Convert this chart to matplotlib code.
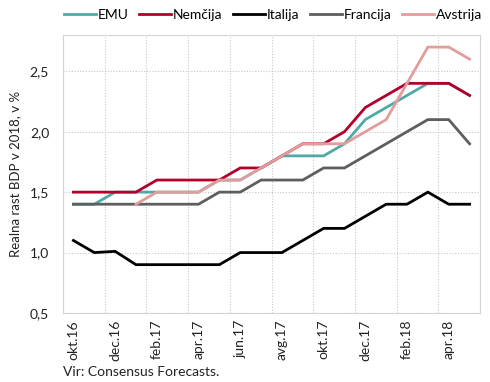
import numpy as np
import matplotlib
matplotlib.use("Agg")
import matplotlib.pyplot as plt
from matplotlib.ticker import FixedLocator, FuncFormatter

plt.rcParams['font.family'] = ['Lato', 'DejaVu Sans']

months = ["okt.16", "nov.16", "dec.16", "jan.17", "feb.17", "mar.17", "apr.17", "maj.17",
          "jun.17", "jul.17", "avg.17", "sep.17", "okt.17", "nov.17", "dec.17", "jan.18",
          "feb.18", "mar.18", "apr.18", "maj.18"]
emu = [1.4, 1.4, 1.5, 1.5, 1.5, 1.5, 1.5, 1.6, 1.6, 1.7, 1.8, 1.8, 1.8, 1.9, 2.1, 2.2, 2.3, 2.4, 2.4, 2.3]
nemcija = [1.5, 1.5, 1.5, 1.5, 1.6, 1.6, 1.6, 1.6, 1.7, 1.7, 1.8, 1.9, 1.9, 2.0, 2.2, 2.3, 2.4, 2.4, 2.4, 2.3]
italija = [1.1, 1.0, 1.01, 0.9, 0.9, 0.9, 0.9, 0.9, 1.0, 1.0, 1.0, 1.1, 1.2, 1.2, 1.3, 1.4, 1.4, 1.5, 1.4, 1.4]
francija = [1.4, 1.4, 1.4, 1.4, 1.4, 1.4, 1.4, 1.5, 1.5, 1.6, 1.6, 1.6, 1.7, 1.7, 1.8, 1.9, 2.0, 2.1, 2.1, 1.9]
avstrija = [np.nan, np.nan, np.nan, 1.4, 1.5, 1.5, 1.5, 1.6, 1.6, 1.7, 1.8, 1.9, 1.9, 1.9, 2.0, 2.1, 2.4, 2.7, 2.7, 2.6]

series = [("EMU", emu, "#4fa9a5"), ("Nemčija", nemcija, "#b2002b"),
          ("Italija", italija, "#000000"), ("Francija", francija, "#5e5e5e"),
          ("Avstrija", avstrija, "#e39c9c")]

fig = plt.figure(figsize=(4.90, 3.82), dpi=100)
ax = fig.add_axes([63/490, 1-313/382, (480-63)/490, (313-35)/382])

x = np.arange(len(months))
for name, vals, col in series:
    ax.plot(x, vals, color=col, lw=2.0, label=name, solid_joinstyle='miter')

ax.set_xlim(-0.5, len(months) - 0.5)
ax.set_ylim(0.5, 2.8)
ax.xaxis.set_major_locator(FixedLocator(x[::2]))
ax.set_xticklabels(months[::2], rotation=90, fontsize=10, color="#222222")
ax.xaxis.set_minor_locator(FixedLocator(np.arange(-0.5, len(months), 2)))
ax.set_yticks([0.5, 1.0, 1.5, 2.0, 2.5])
ax.yaxis.set_major_formatter(FuncFormatter(lambda v, p: f"{v:.1f}".replace(".", ",")))
ax.tick_params(axis='both', which='both', length=0, labelsize=10, colors="#222222")
ax.tick_params(axis='y', pad=10)
ax.tick_params(axis='x', pad=5)
ax.grid(True, axis='y', which='major', color="#c8c8c8", ls=(0, (1, 1.5)), lw=0.8)
ax.grid(True, axis='x', which='minor', color="#c8c8c8", ls=(0, (1, 1.5)), lw=0.8)
for s in ax.spines.values():
    s.set_color("#d4d4d4")
    s.set_linewidth(0.8)
ax.set_ylabel("Realna rast BDP v 2018, v %", fontsize=9.5, color="#222222", labelpad=6)

fig.legend(loc='center', bbox_to_anchor=(273/490, 1-15/382), ncol=5, frameon=False,
           fontsize=10, handlelength=2.3, handletextpad=0.15, columnspacing=0.75,
           borderaxespad=0)

fig.text(63/490, 1-372/382, "Vir: Consensus Forecasts.", fontsize=10, color="#222222",
         va='center', ha='left')

fig.savefig("out.png", dpi=100)
